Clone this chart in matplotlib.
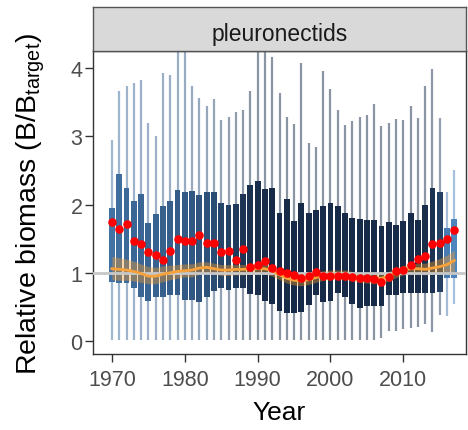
"""
Relative biomass boxplots per year for the pleuronectids group.
"""

import numpy as np
import matplotlib
matplotlib.use("Agg")
import matplotlib.pyplot as plt
from matplotlib.colors import LinearSegmentedColormap

# --- data ---
years = np.arange(1970, 2018)

q1 = [0.87, 0.85, 0.85, 0.78, 0.65, 0.59, 0.64, 0.65, 0.68, 0.68,
      0.60, 0.60, 0.57, 0.64, 0.73, 0.78, 0.75, 0.77, 0.77, 0.69,
      0.67, 0.58, 0.54, 0.44, 0.41, 0.41, 0.43, 0.53, 0.67, 0.57,
      0.59, 0.70, 0.64, 0.54, 0.49, 0.51, 0.51, 0.52, 0.67, 0.68,
      0.70, 0.70, 0.70, 0.70, 0.70, 0.72, 0.92, 0.92]

q3 = [1.95, 2.45, 2.24, 2.05, 2.15, 1.73, 1.86, 1.98, 2.05, 2.22,
      2.18, 2.20, 2.14, 2.18, 2.19, 2.02, 2.00, 2.01, 2.15, 2.29,
      2.35, 2.23, 2.24, 1.88, 2.08, 1.76, 2.03, 1.87, 1.92, 1.98,
      2.03, 1.98, 1.88, 1.81, 1.79, 1.77, 1.77, 1.69, 1.74, 1.70,
      1.76, 1.88, 1.78, 1.99, 2.24, 2.19, 1.66, 1.79]

whisk_hi = [2.94, 3.67, 3.73, 3.78, 3.83, 3.20, 3.01, 3.93, 3.90, 4.60,
            4.60, 3.74, 3.56, 3.45, 3.55, 3.24, 3.28, 3.36, 3.39, 3.67,
            4.60, 4.60, 4.16, 3.63, 3.28, 3.18, 4.08, 2.90, 2.84, 3.96,
            3.70, 3.38, 3.17, 3.22, 3.28, 3.31, 3.48, 3.15, 3.20, 3.25,
            3.24, 3.45, 3.27, 3.74, 3.98, 3.27, 2.19, 2.50]

whisk_lo = [0.02] * 37 + [0.04, 0.14, 0.14, 0.17, 0.19, 0.21, 0.25,
                          0.13, 0.38, 0.36, 0.55]

red_pts = [1.74, 1.64, 1.72, 1.47, 1.42, 1.31, 1.26, 1.19, 1.32, 1.49,
           1.46, 1.47, 1.55, 1.43, 1.44, 1.31, 1.32, 1.19, 1.35, 1.09,
           1.12, 1.17, 1.07, 1.03, 0.99, 0.97, 0.93, 0.95, 1.01, 0.95,
           0.95, 0.95, 0.95, 0.94, 0.92, 0.92, 0.91, 0.86, 0.94, 1.03,
           1.04, 1.12, 1.20, 1.25, 1.42, 1.44, 1.49, 1.62]

trend = [1.06, 1.05, 1.04, 1.02, 0.99, 0.95, 0.95, 0.98, 1.00, 1.02,
         1.03, 1.04, 1.07, 1.08, 1.06, 1.04, 1.04, 1.05, 1.05, 1.06,
         1.06, 1.06, 1.03, 0.97, 0.92, 0.89, 0.88, 0.90, 0.93, 0.96,
         0.97, 0.97, 0.97, 0.95, 0.93, 0.92, 0.91, 0.92, 0.95, 1.00,
         1.04, 1.06, 1.06, 1.05, 1.07, 1.09, 1.12, 1.18]

trend_hi = [1.24, 1.22, 1.20, 1.17, 1.13, 1.09, 1.08, 1.10, 1.11, 1.12,
            1.13, 1.13, 1.16, 1.16, 1.14, 1.12, 1.12, 1.12, 1.12, 1.13,
            1.13, 1.13, 1.10, 1.04, 0.99, 0.96, 0.95, 0.97, 1.00, 1.03,
            1.04, 1.04, 1.04, 1.02, 1.00, 0.99, 0.98, 0.99, 1.02, 1.07,
            1.11, 1.13, 1.14, 1.14, 1.17, 1.21, 1.26, 1.33]

trend_lo = [0.90, 0.89, 0.89, 0.88, 0.86, 0.84, 0.84, 0.87, 0.90, 0.92,
            0.94, 0.94, 0.98, 0.99, 0.98, 0.96, 0.96, 0.97, 0.97, 0.98,
            0.98, 0.98, 0.95, 0.90, 0.85, 0.82, 0.81, 0.83, 0.86, 0.89,
            0.90, 0.90, 0.90, 0.88, 0.86, 0.85, 0.84, 0.85, 0.88, 0.93,
            0.97, 0.98, 0.98, 0.97, 0.98, 0.99, 0.99, 1.00]

# share of stocks assessed (drives box shade: 0 light, 1 dark)
coverage = [0.25, 0.30, 0.33, 0.36, 0.38, 0.40, 0.42, 0.44, 0.46, 0.48,
            0.50, 0.53, 0.56, 0.60, 0.65, 0.72, 0.78, 0.84, 0.90, 0.94,
            0.97, 1.00, 1.00, 1.00, 1.00, 1.00, 1.00, 1.00, 1.00, 1.00,
            1.00, 1.00, 1.00, 1.00, 1.00, 1.00, 1.00, 1.00, 1.00, 1.00,
            1.00, 1.00, 1.00, 0.97, 0.92, 0.78, 0.15, 0.05]

strip_label = "pleuronectids"

# --- styling ---
plt.rcParams["font.family"] = ["Liberation Sans", "DejaVu Sans"]
plt.rcParams["mathtext.fontset"] = "custom"
plt.rcParams["mathtext.rm"] = "Liberation Sans"
plt.rcParams["mathtext.it"] = "Liberation Sans:italic"

cmap = LinearSegmentedColormap.from_list("blues", ["#5089c3", "#172b48"])
box_cols = cmap(np.array(coverage))

W, H = 468, 431
fig = plt.figure(figsize=(W / 100, H / 100), dpi=100)

left, right = 93 / W, 466 / W
bottom, top = 1 - 355 / H, 1 - 52 / H
ax = fig.add_axes([left, bottom, right - left, top - bottom])

# whiskers (semi transparent, behind boxes)
for x, lo, hi, c in zip(years, whisk_lo, whisk_hi, box_cols):
    ax.vlines(x, lo, hi, color=c, alpha=0.5, lw=1.6, zorder=1)

q1a = np.array(q1)
q3a = np.array(q3)
ax.bar(years, q3a - q1a, bottom=q1a, width=0.82, color=box_cols,
       linewidth=0, zorder=2)

ax.fill_between(years, trend_lo, trend_hi, color="#f39c2c", alpha=0.4,
                linewidth=0, zorder=3)
ax.axhline(1, color="#c8c8c8", lw=2, zorder=4)
ax.plot(years, trend, color="#f7a13a", lw=2, zorder=5)
ax.scatter(years, red_pts, s=38, color="#ff0000", linewidths=0, zorder=6)

ax.set_xlim(1967.4, 2018.6)
ax.set_ylim(-0.19, 4.25)
ax.set_xticks([1970, 1980, 1990, 2000, 2010])
ax.set_yticks([0, 1, 2, 3, 4])
ax.tick_params(axis="both", length=5.5, width=1, color="#333333",
               labelcolor="#4d4d4d", labelsize=15.5)
ax.tick_params(axis="x", pad=5.5)
ax.tick_params(axis="y", pad=2)
for s in ax.spines.values():
    s.set_color("#333333")
    s.set_linewidth(1)

ax.set_xlabel("Year", fontsize=19, labelpad=7)
ax.set_ylabel(r"Relative biomass (B/B$_{\mathrm{target}}$)", fontsize=20.5,
              labelpad=17)

# facet strip
sax = fig.add_axes([left, top, right - left, 44 / H])
sax.set_facecolor("#d9d9d9")
sax.set_xticks([])
sax.set_yticks([])
for s in sax.spines.values():
    s.set_color("#555555")
    s.set_linewidth(1)
sax.text(0.5, 0.40, strip_label, ha="center", va="center", fontsize=16.5,
         color="#1a1a1a", transform=sax.transAxes)

fig.savefig("out.png", dpi=100)
